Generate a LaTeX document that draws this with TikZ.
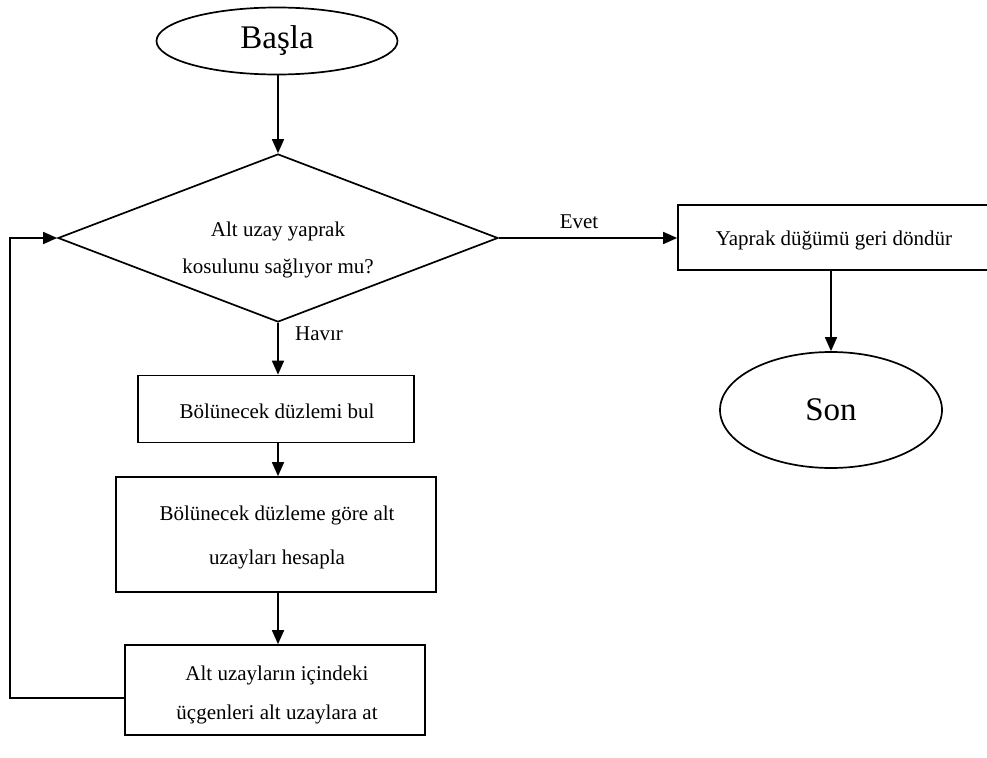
\documentclass[tikz,border=0pt]{standalone}
\usepackage{fontspec}
\setmainfont{Liberation Serif}
\usetikzlibrary{shapes.geometric,arrows.meta}

\begin{document}
\begin{tikzpicture}[x=1pt,y=-1pt,
  line width=1.7pt,
  arr/.style={-{Triangle[length=14pt,width=12pt]}},
  terminal/.style={draw, ellipse, inner sep=0pt, font=\fontsize{33}{33}\selectfont},
  procbox/.style={draw, rectangle, inner sep=0pt},
  lbl/.style={inner sep=0pt, align=center, font=\fontsize{21}{37}\selectfont},
  widelbl/.style={lbl, font=\fontsize{21}{44}\selectfont}]

\useasboundingbox (0,0) rectangle (987,757);

% start / end terminals
\node[terminal, minimum width=241pt, minimum height=67pt] (start) at (277,41) {Başla};
\node[terminal, minimum width=222pt, minimum height=116pt] (stop) at (831,410) {Son};

% decision
\node[draw, diamond, inner sep=0pt, minimum width=440pt, minimum height=168pt] (dec) at (278,238) {};
\node[lbl] (dectext) at (278,250) {Alt uzay yaprak\\kosulunu sağlıyor mu?};

% process boxes
\node[procbox, minimum width=311pt, minimum height=65pt] (leaf) at (833.5,237.5) {};
\node[lbl] (leaftext) at (834,240) {Yaprak düğümü geri döndür};

\node[procbox, minimum width=276pt, minimum height=67pt] (find) at (276,409) {};
\node[lbl] (findtext) at (277,411) {Bölünecek düzlemi bul};

\node[procbox, minimum width=320pt, minimum height=115pt] (split) at (276,534.5) {};
\node[widelbl] (splittext) at (277,537) {Bölünecek düzleme göre alt\\uzayları hesapla};

\node[procbox, minimum width=300pt, minimum height=90pt] (assign) at (275,690) {};
\node[lbl, font=\fontsize{21}{39}\selectfont] (assigntext) at (277,695) {Alt uzayların içindeki\\üçgenleri alt uzaylara at};

% edge labels
\node[lbl] (yes) at (579,222) {Evet};
\node[lbl] (no) at (319,334) {Havır};

% connectors
\draw[arr] (start.south -| dec.north) -- (dec.north);
\draw[arr] (dec.east) -- (dec.east -| leaf.west);
\draw[arr] (leaf.south -| stop.north) -- (stop.north);
\draw[arr] (dec.south) -- (dec.south |- find.north);
\draw[arr] (find.south -| dec.south) -- (split.north -| dec.south);
\draw[arr] (split.south -| dec.south) -- (assign.north -| dec.south);

% loop back from the last step to the decision
\coordinate (back) at (10,238);
\coordinate (loopout) at ([yshift=-8pt]assign.west);
\draw[arr] (loopout) -- (loopout -| back) -- (back) -- (dec.west);

\end{tikzpicture}
\end{document}
